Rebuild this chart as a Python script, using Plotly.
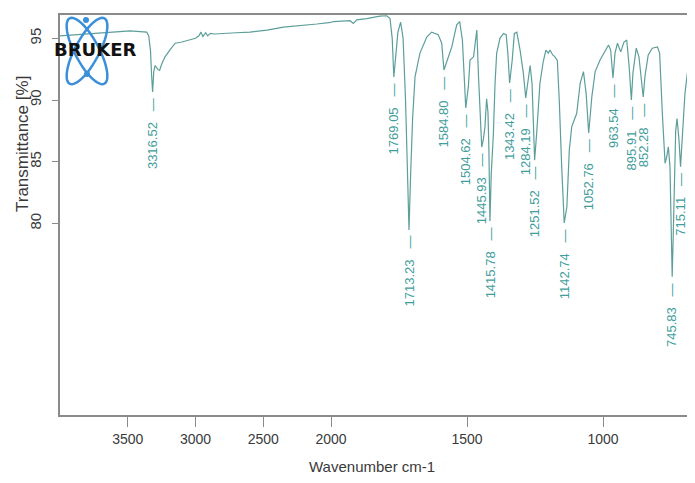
import math
import plotly.graph_objects as go

# ---------------- data ----------------
wavenumber = [
    4000, 3852, 3705, 3557, 3483, 3409, 3360, 3345, 3332, 3324, 3316.52, 3308, 3298,
    3280, 3265, 3250, 3225, 3190, 3150, 3100, 3050, 3000, 2975, 2960, 2945, 2925,
    2910, 2890, 2860, 2800, 2700, 2597, 2473, 2351, 2227, 2104, 2000,
    1991, 1930, 1918, 1905, 1869, 1820, 1795, 1783, 1775, 1769.05, 1763, 1754, 1744,
    1735, 1726, 1718, 1713.23, 1708, 1700, 1691, 1673, 1648, 1630, 1606, 1593,
    1584.80, 1575, 1556, 1538, 1527, 1517, 1504.62, 1495, 1489, 1476, 1464, 1458,
    1452, 1445.93, 1440, 1434, 1428, 1423, 1419.6, 1415.78, 1411, 1403, 1397, 1391,
    1379, 1366, 1356, 1350, 1343.42, 1334, 1326, 1317, 1305, 1293, 1284.19, 1275,
    1268, 1261, 1251.52, 1244, 1232, 1220, 1210, 1201, 1195, 1185, 1177, 1168, 1161,
    1152, 1142.74, 1133, 1124, 1115, 1106, 1097, 1084, 1072, 1062, 1052.76, 1041,
    1029, 1011, 993, 980, 972, 963.54, 956, 947, 935, 923, 913, 904, 895.91, 890,
    878, 868, 852.28, 846, 834, 819, 800, 792, 782, 772, 766, 760, 754, 749, 745.83,
    742, 737, 733, 728, 721, 715.11, 710, 706, 699, 690, 682, 674, 662,
]
transmittance = [
    95.2, 95.3, 95.4, 95.5, 95.6, 95.55, 95.5, 95.2, 94.0, 92.0, 90.65, 92.3, 92.8,
    92.5, 92.4, 92.9, 93.5, 94.05, 94.6, 94.7, 94.86, 95.0, 95.2, 95.5, 95.15, 95.45,
    95.2, 95.4, 95.35, 95.4, 95.45, 95.5, 95.67, 95.9, 96.0, 96.16, 96.3,
    96.35, 96.43, 96.2, 96.5, 96.6, 96.8, 96.83, 96.6, 95.0, 91.86, 93.5, 95.5, 96.3,
    95.0, 90.0, 84.0, 79.47, 83.5, 88.5, 91.9, 93.8, 95.1, 95.5, 95.3, 94.6,
    92.43, 93.1, 94.3, 96.1, 96.35, 94.86, 89.35, 91.1, 93.24, 93.5, 95.67, 92.0,
    89.2, 86.19, 86.8, 87.84, 90.1, 89.0, 86.0, 80.2, 84.0, 87.3, 91.35, 93.8,
    95.0, 95.4, 95.3, 93.8, 91.38, 93.2, 95.4, 95.5, 94.05, 92.2, 90.16, 91.9,
    92.8, 91.35, 85.13, 87.3, 91.35, 93.1, 94.05, 93.8, 94.05, 93.65, 93.5, 93.2, 90.0,
    84.6, 80.03, 81.35, 85.95, 87.84, 88.4, 88.9, 91.35, 92.3, 90.5, 87.33, 90.3,
    92.3, 93.24, 93.9, 94.46, 94.05, 91.78, 93.8, 94.6, 93.9, 94.7, 94.86, 92.7, 90.0, 92.2,
    94.2, 93.5, 90.24, 91.9, 93.65, 94.2, 94.3, 93.8, 88.9, 84.87, 85.4, 86.2, 84.6, 80.0, 75.67,
    79.0, 84.5, 87.5, 88.5, 86.8, 84.6, 86.5, 88.3, 90.5, 92.2, 91.9, 89.46, 86.5,
]
peak_labels = ["3316.52", "1769.05", "1713.23", "1584.80", "1504.62", "1445.93",
               "1415.78", "1343.42", "1284.19", "1251.52", "1142.74", "1052.76",
               "963.54", "895.91", "852.28", "745.83", "715.11"]
x_ticks_high = [3500, 3000, 2500, 2000]
x_ticks_low = [1500, 1000]
y_ticks = [80, 85, 90, 95]

# ---------------- styles / layout ----------------
CURVE = "#5c9e9a"
LABEL = "#3f9d9b"
AXIS = "#8a8a8a"
TEXT = "#3a3a3a"
OFF = 8                      # page body margin in the browser
W, H = 695 - OFF, 483 - OFF  # figure size so that it fills the window
ML, MR, MT, MB = 60 - OFF, 0, 15 - OFF, 68
PW, PH = W - ML - MR, H - MT - MB
SPLIT = 2000
X_LEFT, X_RIGHT = 4000, 662
Y_MIN, Y_MAX = 64.47, 96.89
d_split = 271 / PW  # compressed high-wavenumber region (Bruker style)

hi = [(w, t) for w, t in zip(wavenumber, transmittance) if w >= SPLIT]
lo = [(w, t) for w, t in zip(wavenumber, transmittance) if w <= SPLIT]

fig = go.Figure()
fig.add_trace(go.Scatter(x=[p[0] for p in hi], y=[p[1] for p in hi], xaxis="x", yaxis="y",
                         mode="lines", line=dict(color=CURVE, width=1.2),
                         hoverinfo="skip", showlegend=False))
fig.add_trace(go.Scatter(x=[p[0] for p in lo], y=[p[1] for p in lo], xaxis="x2", yaxis="y",
                         mode="lines", line=dict(color=CURVE, width=1.2),
                         hoverinfo="skip", showlegend=False))

tickfont = dict(family="Liberation Sans Narrow, Arial Narrow, Liberation Sans, Arial",
                size=14, color=TEXT)
common_x = dict(ticks="outside", ticklen=10, tickwidth=1, tickcolor=AXIS,
                showline=True, linecolor=AXIS, linewidth=1.5, mirror=True,
                showgrid=False, zeroline=False, anchor="y", tickfont=tickfont,
                automargin=False)

fig.update_layout(
    width=W, height=H,
    margin=dict(l=ML, r=MR, t=MT, b=MB, autoexpand=False),
    paper_bgcolor="white", plot_bgcolor="white",
    xaxis=dict(domain=[0, d_split], range=[X_LEFT, SPLIT], tickvals=x_ticks_high,
               ticktext=[str(v) for v in x_ticks_high], **common_x),
    xaxis2=dict(domain=[d_split, 1], range=[SPLIT, X_RIGHT], tickvals=x_ticks_low,
                ticktext=[str(v) for v in x_ticks_low], **common_x),
    yaxis=dict(range=[Y_MIN, Y_MAX], tickvals=y_ticks, ticks="outside", ticklen=6,
               tickcolor=AXIS, tickangle=-90, showline=True, linecolor=AXIS,
               linewidth=1.5, showgrid=False, zeroline=False, ticklabelstandoff=5,
               automargin=False,
               tickfont=dict(family="Liberation Sans, Arial", size=15, color=TEXT)),
)

# peak labels
t_of = dict(zip(wavenumber, transmittance))
for lab in peak_labels:
    wn = float(lab)
    t = t_of[wn]
    fig.add_annotation(
        x=wn, y=t, xref="x" if wn > SPLIT else "x2", yref="y",
        text=lab + "\u00a0\u00a0\u00a0\u2014", textangle=-90,
        xanchor="center", yanchor="top", yshift=-4, showarrow=False,
        font=dict(family="Liberation Sans, Arial", size=13, color=LABEL),
    )


# window pixel -> paper coordinates
def to_paper(px, py):
    return (px - OFF - ML) / PW, (MT + PH - (py - OFF)) / PH


# axis titles
tx, ty = to_paper(372, 467)
fig.add_annotation(x=tx, y=ty, xref="paper", yref="paper",
                   text="Wavenumber cm-1", showarrow=False, xanchor="center", yanchor="middle",
                   font=dict(family="Liberation Sans Narrow, Arial Narrow, Liberation Sans",
                             size=15, color=TEXT))
tx, ty = to_paper(22, 144)
fig.add_annotation(x=tx, y=ty, xref="paper", yref="paper",
                   text="Transmittance [%]", textangle=-90, showarrow=False,
                   xanchor="center", yanchor="middle",
                   font=dict(family="Liberation Sans, Arial", size=17, color=TEXT))


# ---------------- Bruker logo (decoration) ----------------
def ellipse_path(cx, cy, a, b, ang_deg, n=72):
    th = math.radians(ang_deg)
    pts = []
    for i in range(n):
        s = 2 * math.pi * i / n
        ex, ey = a * math.cos(s), b * math.sin(s)
        X = cx + ex * math.cos(th) - ey * math.sin(th)
        Y = cy + ex * math.sin(th) + ey * math.cos(th)
        pts.append(to_paper(X, Y))
    return "M " + " L ".join(f"{x:.5f},{y:.5f}" for x, y in pts) + " Z"


LOGO = "#3b8fd9"
for ang in (62, 118):
    fig.add_shape(type="path", path=ellipse_path(87, 51, 37, 12, ang), xref="paper",
                  yref="paper", line=dict(color=LOGO, width=2.5), layer="above")
for (ex, ey) in [(86, 20), (87, 74)]:
    x0, y0 = to_paper(ex - 3, ey + 3)
    x1, y1 = to_paper(ex + 3, ey - 3)
    fig.add_shape(type="circle", x0=x0, y0=y0, x1=x1, y1=y1, xref="paper", yref="paper",
                  fillcolor=LOGO, line=dict(color=LOGO, width=0), layer="above")
bx, by = to_paper(95, 49.5)
fig.add_annotation(x=bx, y=by, xref="paper", yref="paper", text="<b>BRUKER</b>",
                   showarrow=False, xanchor="center", yanchor="middle",
                   font=dict(family="DejaVu Sans", size=18, color="#111111"))

fig.write_html("out.html")
